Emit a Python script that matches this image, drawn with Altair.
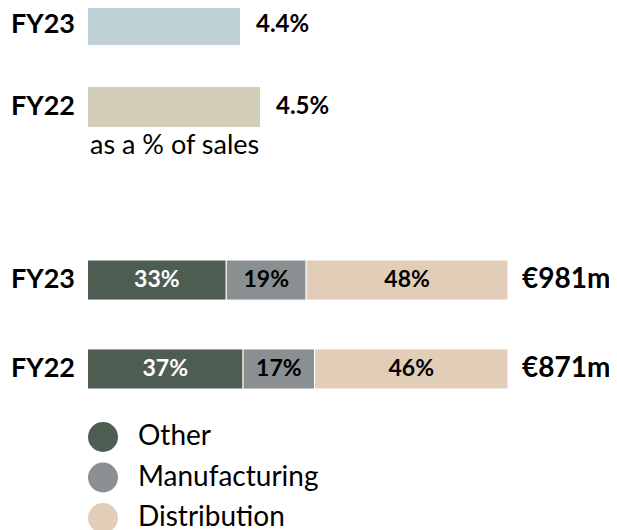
import altair as alt
import pandas as pd

# ---- data ----
years = ["FY23", "FY22"]
margin_pct = [4.4, 4.5]
margin_labels = ["4.4%", "4.5%"]
sales_note = "as a % of sales"
segments = ["Other", "Manufacturing", "Distribution"]
share_fy23 = [33, 19, 48]
share_fy22 = [37, 17, 46]
totals = ["€981m", "€871m"]

top_colors = ["#bfd0d7", "#d3ceb8"]
seg_colors = ["#4d5d52", "#8a8f91", "#e2cdb9"]
FONT = "Lato"

top_df = pd.DataFrame({"year": years, "pct": margin_pct, "label": margin_labels})
rows = []
for yr, shares in zip(years, [share_fy23, share_fy22]):
    for i, (s, v) in enumerate(zip(segments, shares)):
        rows.append({"year": yr, "segment": s, "share": v, "order": i, "label": f"{v}%"})
seg_df = pd.DataFrame(rows)
tot_df = pd.DataFrame({"year": years, "total": totals})

# ---- scales ----
y_top = alt.Y("year:N", axis=None,
              scale=alt.Scale(domain=years, range=[0, 122], paddingInner=0.512, paddingOuter=0))
y_bot = alt.Y("year:N", axis=None,
              scale=alt.Scale(domain=years, range=[255, 384], paddingInner=0.55, paddingOuter=0))
top_base_val = 3.64
x_top_scale = alt.Scale(domain=[top_base_val, 4.5], range=[80, 252], zero=False, nice=False)
x_bot_scale = alt.Scale(domain=[0, 100], range=[79.5, 500], zero=False, nice=False)

# ---- top section ----
top_bars = alt.Chart(top_df).mark_bar().encode(
    x=alt.X("pct:Q", axis=None, scale=x_top_scale),
    x2=alt.datum(top_base_val),
    y=y_top,
    color=alt.Color("year:N", scale=alt.Scale(domain=years, range=top_colors), legend=None),
)
top_year_text = alt.Chart(top_df).mark_text(
    font=FONT, fontWeight="bold", fontSize=27, align="right", color="black"
).encode(x=alt.value(67), y=y_top, text="year:N")
top_val_text = alt.Chart(top_df).mark_text(
    font=FONT, fontWeight="bold", fontSize=24, align="left", dx=16, color="black"
).encode(x=alt.X("pct:Q", axis=None, scale=x_top_scale), y=y_top, text="label:N")
sales_text = alt.Chart(top_df).transform_filter(alt.datum.year == "FY22").mark_text(
    font=FONT, fontSize=27, align="left", dy=39, color="black", text=sales_note
).encode(x=alt.value(82), y=y_top)

top = alt.layer(top_bars, top_year_text, top_val_text, sales_text)

# ---- bottom section ----
seg_base = alt.Chart(seg_df).transform_stack(
    stack="share", groupby=["year"], sort=[alt.SortField("order")], as_=["x0", "x1"]
).transform_calculate(mid="(datum.x0 + datum.x1) / 2")

seg_bars = seg_base.mark_bar(stroke="white", strokeWidth=1).encode(
    x=alt.X("x0:Q", axis=None, scale=x_bot_scale),
    x2="x1:Q",
    y=y_bot,
    color=alt.Color(
        "segment:N",
        scale=alt.Scale(domain=segments, range=seg_colors),
        legend=alt.Legend(
            title=None, orient="none", legendX=80, legendY=417, direction="vertical",
            symbolType="circle", symbolSize=900, symbolStrokeWidth=0, symbolOpacity=1,
            labelFont=FONT, labelFontSize=28, labelColor="black", labelOffset=20,
            labelLimit=0, rowPadding=10.5, padding=0,
        ),
    ),
)
seg_text = seg_base.mark_text(font=FONT, fontWeight="bold", fontSize=23).encode(
    x=alt.X("mid:Q", axis=None, scale=x_bot_scale),
    y=y_bot,
    text="label:N",
    color=alt.condition(alt.datum.segment == "Other", alt.value("white"), alt.value("black")),
)
bot_year_text = alt.Chart(tot_df).mark_text(
    font=FONT, fontWeight="bold", fontSize=27, align="right", color="black"
).encode(x=alt.value(67), y=y_bot, text="year:N")
tot_text = alt.Chart(tot_df).mark_text(
    font=FONT, fontWeight="bold", fontSize=28, align="left", color="black"
).encode(x=alt.value(514), y=y_bot, text="total:N")

bottom = alt.layer(seg_bars, seg_text, bot_year_text, tot_text)

chart = alt.layer(top, bottom).resolve_scale(
    x="independent", y="independent", color="independent"
).properties(
    width=601, height=525,
    padding={"left": 0, "top": -3, "right": 0, "bottom": 0},
    autosize=alt.AutoSizeParams(type="none"),
).configure_view(stroke=None)

chart.save("out.html", embed_options={"renderer": "svg", "actions": False})
